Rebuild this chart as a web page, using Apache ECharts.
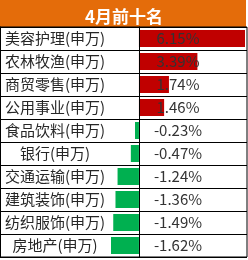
<!DOCTYPE html>
<html>
<head>
<meta charset="utf-8">
<script src="https://cdn.jsdelivr.net/npm/echarts@6/dist/echarts.min.js"></script>
<style>
  html, body { margin: 0; padding: 0; background: #fff; }
  #chart { width: 248px; height: 260px; }
</style>
</head>
<body>
<div id="chart"></div>
<script>
// 4月前十名 行业涨跌幅
const titleText = "4月前十名";
const industries = [
  "美容护理(申万)",
  "农林牧渔(申万)",
  "商贸零售(申万)",
  "公用事业(申万)",
  "食品饮料(申万)",
  "银行(申万)",
  "交通运输(申万)",
  "建筑装饰(申万)",
  "纺织服饰(申万)",
  "房地产(申万)",
];
const changes = [6.15, 3.39, 1.74, 1.46, -0.23, -0.47, -1.24, -1.36, -1.49, -1.62];

const fontFamily = "'Noto Sans CJK SC', 'Noto Sans', sans-serif";
const upColor = "#C00000";
const downColor = "#00B050";

let chart = echarts.init(document.getElementById("chart"));

let option = {
  animation: false,
  textStyle: { fontFamily: fontFamily },
  title: {
    text: titleText,
    left: "center",
    top: 3,
    textStyle: { color: "#fff", fontSize: 17, fontWeight: "bold", fontFamily: fontFamily },
  },
  graphic: [
    {
      type: "rect",
      z: -1,
      shape: { x: 0, y: 0, width: 246, height: 27 },
      style: { fill: "#E46C0A" },
    },
  ],
  grid: [
    // 整个表格：边框、横线、行业名
    { left: 0, right: 1, top: 27, bottom: 3, show: true, borderColor: "#000", borderWidth: 1 },
    // 数据条区域
    { left: 111, right: 3, top: 27, bottom: 3 },
  ],
  xAxis: [
    { gridIndex: 0, type: "value", show: false },
    { gridIndex: 1, type: "value", min: -1.62, max: 6.15, show: false },
  ],
  yAxis: [
    {
      gridIndex: 0,
      type: "category",
      inverse: true,
      data: industries,
      z: 5,
      axisLine: { show: true, lineStyle: { color: "#000" } },
      axisTick: { show: false },
      splitLine: { show: true, interval: 0, lineStyle: { color: "#000", width: 1 } },
      axisLabel: {
        inside: true,
        interval: 0,
        margin: 55,
        align: "center",
        color: "#262626",
        fontSize: 15,
        fontFamily: fontFamily,
      },
    },
    {
      gridIndex: 1,
      type: "category",
      inverse: true,
      data: industries,
      offset: 1,
      z: 5,
      axisLine: { show: true, lineStyle: { color: "#000" } },
      axisTick: { show: false },
      splitLine: { show: false },
      axisLabel: {
        inside: true,
        interval: 0,
        margin: 68,
        align: "center",
        color: "#333",
        fontSize: 15,
        fontFamily: fontFamily,
        formatter: function (value, index) {
          return changes[index].toFixed(2) + "%";
        },
      },
    },
  ],
  series: [
    {
      type: "bar",
      xAxisIndex: 1,
      yAxisIndex: 1,
      barWidth: 17,
      z: 1,
      data: changes.map((v) => ({
        value: v,
        itemStyle: { color: v >= 0 ? upColor : downColor },
      })),
    },
  ],
};
option && chart.setOption(option);
</script>
</body>
</html>
